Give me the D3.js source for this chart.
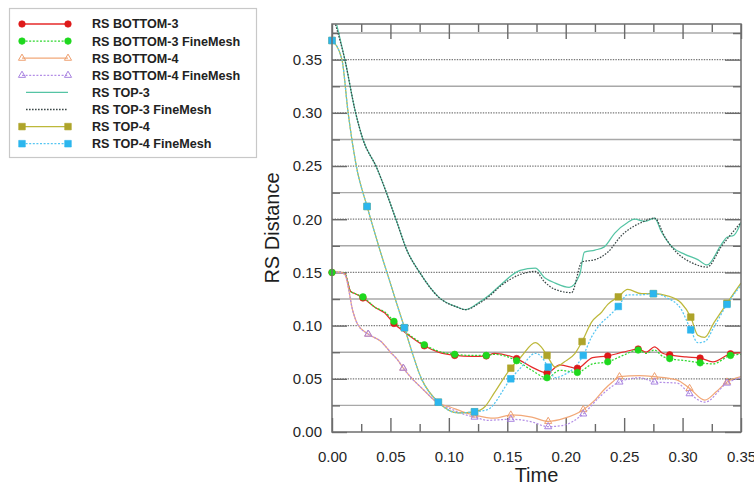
<!DOCTYPE html>
<html>
<head>
<meta charset="utf-8">
<script src="https://cdn.jsdelivr.net/npm/d3@7"></script>
<style>
  html, body { margin: 0; padding: 0; background: #fff; }
  svg { display: block; font-family: "Liberation Sans", Arial, sans-serif; }
</style>
</head>
<body>
<svg id="chart" width="754" height="486"></svg>
<script>
// ---- data -------------------------------------------------------------
const seriesNames = [
  "RS BOTTOM-3", "RS BOTTOM-3 FineMesh", "RS BOTTOM-4", "RS BOTTOM-4 FineMesh",
  "RS TOP-3", "RS TOP-3 FineMesh", "RS TOP-4", "RS TOP-4 FineMesh"
];

const xTickValues = [0, 0.05, 0.10, 0.15, 0.20, 0.25, 0.30, 0.35];
const xTickLabels = ["0.00", "0.05", "0.10", "0.15", "0.20", "0.25", "0.30", "0.35"];
const yTickValues = [0, 0.05, 0.10, 0.15, 0.20, 0.25, 0.30, 0.35];
const yTickLabels = ["0.00", "0.05", "0.10", "0.15", "0.20", "0.25", "0.30", "0.35"];

const bottom3T = [0, 0.007, 0.011, 0.016, 0.020, 0.0265, 0.037, 0.045, 0.053, 0.062, 0.079, 0.091, 0.105, 0.120, 0.132, 0.139, 0.158, 0.171, 0.184, 0.195, 0.210, 0.223, 0.236, 0.249, 0.262, 0.269, 0.276, 0.283, 0.289, 0.303, 0.315, 0.326, 0.341, 0.350];
const bottom3V = [0.150, 0.150, 0.149, 0.132, 0.130, 0.126, 0.117, 0.112, 0.102, 0.094, 0.081, 0.075, 0.072, 0.071, 0.0715, 0.074, 0.069, 0.061, 0.0555, 0.063, 0.060, 0.070, 0.0715, 0.075, 0.078, 0.075, 0.080, 0.074, 0.0725, 0.0705, 0.0695, 0.066, 0.0735, 0.0745];
const bottom3MarkT = [0, 0.0265, 0.053, 0.079, 0.105, 0.132, 0.158, 0.184, 0.210, 0.236, 0.262, 0.289, 0.315, 0.341];

const bottom3FineT = bottom3T;
const bottom3FineV = [0.150, 0.150, 0.149, 0.132, 0.130, 0.127, 0.117, 0.113, 0.104, 0.095, 0.082, 0.076, 0.073, 0.072, 0.072, 0.073, 0.067, 0.058, 0.051, 0.058, 0.056, 0.064, 0.066, 0.072, 0.077, 0.074, 0.077, 0.071, 0.069, 0.067, 0.065, 0.064, 0.072, 0.073];
const bottom3FineMarkT = bottom3MarkT;

const bottom4T = [0, 0.007, 0.011, 0.018, 0.022, 0.031, 0.042, 0.050, 0.056, 0.061, 0.067, 0.078, 0.091, 0.101, 0.112, 0.122, 0.139, 0.153, 0.171, 0.185, 0.199, 0.215, 0.225, 0.233, 0.240, 0.246, 0.263, 0.276, 0.295, 0.306, 0.319, 0.329, 0.338, 0.350];
const bottom4V = [0.150, 0.150, 0.148, 0.113, 0.101, 0.092, 0.085, 0.075, 0.068, 0.060, 0.052, 0.040, 0.027, 0.0235, 0.019, 0.016, 0.013, 0.016, 0.014, 0.010, 0.013, 0.021, 0.030, 0.040, 0.047, 0.052, 0.053, 0.052, 0.049, 0.041, 0.030, 0.038, 0.047, 0.052];
const bottom4MarkT = [0.031, 0.061, 0.091, 0.122, 0.153, 0.185, 0.215, 0.246, 0.276, 0.306, 0.338];

const bottom4FineT = [0, 0.007, 0.011, 0.018, 0.022, 0.031, 0.042, 0.050, 0.056, 0.061, 0.067, 0.078, 0.091, 0.101, 0.112, 0.122, 0.133, 0.153, 0.171, 0.185, 0.197, 0.215, 0.229, 0.246, 0.263, 0.276, 0.295, 0.306, 0.319, 0.338, 0.350];
const bottom4FineV = [0.150, 0.150, 0.148, 0.113, 0.101, 0.092, 0.085, 0.075, 0.068, 0.060, 0.052, 0.040, 0.027, 0.022, 0.017, 0.014, 0.011, 0.012, 0.0095, 0.005, 0.006, 0.017, 0.033, 0.047, 0.051, 0.047, 0.046, 0.036, 0.028, 0.046, 0.051];
const bottom4FineMarkT = bottom4MarkT;

const top3T = [0.004, 0.011, 0.020, 0.0265, 0.038, 0.055, 0.064, 0.075, 0.091, 0.108, 0.114, 0.126, 0.135, 0.144, 0.161, 0.174, 0.182, 0.191, 0.203, 0.212, 0.216, 0.225, 0.233, 0.242, 0.253, 0.259, 0.268, 0.276, 0.282, 0.291, 0.302, 0.313, 0.321, 0.333, 0.338, 0.344, 0.350];
const top3V = [0.383, 0.350, 0.301, 0.275, 0.249, 0.199, 0.171, 0.150, 0.127, 0.117, 0.115, 0.122, 0.129, 0.138, 0.152, 0.154, 0.145, 0.140, 0.136, 0.148, 0.169, 0.171, 0.174, 0.187, 0.197, 0.200, 0.198, 0.201, 0.188, 0.174, 0.167, 0.162, 0.157, 0.176, 0.183, 0.185, 0.197];

const top3FineT = [0.003, 0.011, 0.020, 0.0265, 0.038, 0.055, 0.064, 0.075, 0.091, 0.108, 0.114, 0.126, 0.135, 0.144, 0.161, 0.174, 0.182, 0.191, 0.205, 0.214, 0.225, 0.236, 0.248, 0.265, 0.276, 0.285, 0.293, 0.308, 0.321, 0.333, 0.350];
const top3FineV = [0.383, 0.350, 0.301, 0.275, 0.249, 0.199, 0.171, 0.150, 0.127, 0.117, 0.115, 0.121, 0.128, 0.137, 0.148, 0.151, 0.141, 0.134, 0.131, 0.160, 0.162, 0.169, 0.185, 0.197, 0.201, 0.183, 0.171, 0.159, 0.155, 0.174, 0.197];

const top4T = [0, 0.0085, 0.0137, 0.021, 0.030, 0.041, 0.047, 0.062, 0.077, 0.091, 0.108, 0.122, 0.131, 0.139, 0.153, 0.162, 0.174, 0.179, 0.184, 0.191, 0.199, 0.208, 0.214, 0.222, 0.231, 0.236, 0.245, 0.253, 0.265, 0.275, 0.287, 0.299, 0.307, 0.313, 0.319, 0.327, 0.338, 0.350];
const top4V = [0.368, 0.350, 0.301, 0.249, 0.212, 0.171, 0.150, 0.098, 0.049, 0.028, 0.018, 0.019, 0.024, 0.037, 0.060, 0.071, 0.084, 0.080, 0.072, 0.061, 0.066, 0.074, 0.085, 0.103, 0.113, 0.120, 0.127, 0.134, 0.130, 0.130, 0.128, 0.121, 0.108, 0.091, 0.089, 0.103, 0.121, 0.140];
const top4MarkT = [0, 0.030, 0.062, 0.091, 0.122, 0.153, 0.184, 0.214, 0.245, 0.275, 0.307, 0.338];

const top4FineT = [0, 0.0085, 0.0137, 0.021, 0.030, 0.041, 0.047, 0.062, 0.077, 0.091, 0.108, 0.122, 0.133, 0.153, 0.162, 0.174, 0.179, 0.185, 0.191, 0.199, 0.208, 0.215, 0.222, 0.231, 0.236, 0.245, 0.253, 0.265, 0.275, 0.287, 0.299, 0.307, 0.313, 0.319, 0.327, 0.338, 0.350];
const top4FineV = [0.368, 0.350, 0.301, 0.249, 0.212, 0.171, 0.150, 0.098, 0.049, 0.028, 0.018, 0.019, 0.021, 0.050, 0.061, 0.074, 0.071, 0.061, 0.051, 0.054, 0.061, 0.072, 0.089, 0.103, 0.108, 0.118, 0.129, 0.129, 0.130, 0.126, 0.115, 0.096, 0.084, 0.085, 0.099, 0.120, 0.138];
const top4FineMarkT = [0, 0.030, 0.062, 0.091, 0.122, 0.153, 0.185, 0.215, 0.245, 0.275, 0.307, 0.338];

// ---- series styling ---------------------------------------------------
const series = [
  { name: seriesNames[0], t: bottom3T, v: bottom3V, marks: bottom3MarkT, color: "#e62a2a", markColor: "#de1a1a", dash: null, marker: "circle" },
  { name: seriesNames[1], t: bottom3FineT, v: bottom3FineV, marks: bottom3FineMarkT, color: "#2fd82f", markColor: "#1ed81e", dash: "2,1.6", marker: "circle" },
  { name: seriesNames[2], t: bottom4T, v: bottom4V, marks: bottom4MarkT, color: "#f2a878", markColor: "#eea070", dash: null, marker: "triangle" },
  { name: seriesNames[3], t: bottom4FineT, v: bottom4FineV, marks: bottom4FineMarkT, color: "#b38ee6", markColor: "#a883e0", dash: "2,1.6", marker: "triangle" },
  { name: seriesNames[4], t: top3T, v: top3V, marks: [], color: "#55c4a4", markColor: null, dash: null, marker: null },
  { name: seriesNames[5], t: top3FineT, v: top3FineV, marks: [], color: "#3c4848", markColor: null, dash: "1.6,1.4", marker: null },
  { name: seriesNames[6], t: top4T, v: top4V, marks: top4MarkT, color: "#bdb83a", markColor: "#aea42a", dash: null, marker: "square" },
  { name: seriesNames[7], t: top4FineT, v: top4FineV, marks: top4FineMarkT, color: "#56c6f2", markColor: "#2cb6ee", dash: "2,1.6", marker: "square" }
];

// ---- layout -----------------------------------------------------------
const svg = d3.select("#chart");
const plot = { left: 332, right: 741, top: 24, bottom: 432 };

const x = d3.scaleLinear().domain([0, 0.35]).range([plot.left, plot.right]);
const y = d3.scaleLinear().domain([0, 0.3835]).range([plot.bottom, plot.top]);

const xMinor = d3.range(0.025, 0.35, 0.05);
const yMinor = d3.range(0.025, 0.38, 0.05);

// horizontal grid: solid at the half steps, dotted at the labelled steps
const grid = svg.append("g");
grid.selectAll("line.minor").data(yMinor).join("line")
  .attr("x1", plot.left).attr("x2", plot.right)
  .attr("y1", d => y(d)).attr("y2", d => y(d))
  .attr("stroke", "#a8a8a8").attr("stroke-width", 1.4);
grid.selectAll("line.major").data(yTickValues.filter(d => d > 0)).join("line")
  .attr("x1", plot.left).attr("x2", plot.right)
  .attr("y1", d => y(d)).attr("y2", d => y(d))
  .attr("stroke", "#7a7a7a").attr("stroke-width", 1.2).attr("stroke-dasharray", "1.4,1.2");

// ---- axes -------------------------------------------------------------
const fmt = (vals, labels) => d => labels[vals.indexOf(d)];

const axisStyle = g => {
  g.select(".domain").remove();
  g.selectAll(".tick line").attr("stroke", "#6a6a6a").attr("stroke-width", 1.4);
  g.selectAll(".tick text").attr("fill", "#262626").attr("font-size", 15);
};

svg.append("g").attr("transform", `translate(0,${plot.bottom})`)
  .call(d3.axisBottom(x).tickValues(xTickValues).tickSize(-14).tickPadding(19)
    .tickFormat(fmt(xTickValues, xTickLabels)))
  .call(axisStyle);
svg.append("g").attr("transform", `translate(0,${plot.bottom})`)
  .call(d3.axisBottom(x).tickValues(xMinor).tickSize(-8).tickFormat(""))
  .call(axisStyle);
svg.append("g").attr("transform", `translate(0,${plot.top})`)
  .call(d3.axisTop(x).tickValues(xTickValues).tickSize(-15).tickFormat(""))
  .call(axisStyle);
svg.append("g").attr("transform", `translate(0,${plot.top})`)
  .call(d3.axisTop(x).tickValues(xMinor).tickSize(-8).tickFormat(""))
  .call(axisStyle);

svg.append("g").attr("transform", `translate(${plot.left},0)`)
  .call(d3.axisLeft(y).tickValues(yTickValues).tickSize(-15).tickPadding(10)
    .tickFormat(fmt(yTickValues, yTickLabels)))
  .call(axisStyle);
svg.append("g").attr("transform", `translate(${plot.left},0)`)
  .call(d3.axisLeft(y).tickValues(yMinor).tickSize(-8).tickFormat(""))
  .call(axisStyle);
svg.append("g").attr("transform", `translate(${plot.right},0)`)
  .call(d3.axisRight(y).tickValues(yTickValues).tickSize(-16).tickFormat(""))
  .call(axisStyle);
svg.append("g").attr("transform", `translate(${plot.right},0)`)
  .call(d3.axisRight(y).tickValues(yMinor).tickSize(-8).tickFormat(""))
  .call(axisStyle);

// ---- series -----------------------------------------------------------
svg.append("clipPath").attr("id", "plotClip").append("rect")
  .attr("x", plot.left).attr("y", plot.top)
  .attr("width", plot.right - plot.left).attr("height", plot.bottom - plot.top);

const line = d3.line().x(d => x(d[0])).y(d => y(d[1])).curve(d3.curveMonotoneX);

const symbolType = { circle: d3.symbolCircle, square: d3.symbolSquare, triangle: d3.symbolTriangle };
const symbolSize = { circle: 34, square: 44, triangle: 22 };

function drawMarker(sel, s) {
  sel.attr("d", d3.symbol().type(symbolType[s.marker]).size(symbolSize[s.marker]))
    .attr("fill", s.marker === "triangle" ? "none" : s.markColor)
    .attr("stroke", s.markColor)
    .attr("stroke-width", s.marker === "triangle" ? 1.0 : 0.6);
}

const plotArea = svg.append("g").attr("clip-path", "url(#plotClip)");
series.forEach(s => {
  const pts = s.t.map((t, i) => [t, s.v[i]]);
  plotArea.append("path").datum(pts)
    .attr("d", line)
    .attr("fill", "none")
    .attr("stroke", s.color)
    .attr("stroke-width", 1.25)
    .attr("stroke-dasharray", s.dash);
});
series.forEach(s => {
  if (!s.marker) return;
  const pts = s.marks.map(t => [t, s.v[s.t.indexOf(t)]]);
  svg.append("g").selectAll("path").data(pts).join("path")
    .attr("transform", d => `translate(${x(d[0])},${y(d[1])})`)
    .call(sel => drawMarker(sel, s));
});

// plot frame
svg.append("rect")
  .attr("x", plot.left).attr("y", plot.top)
  .attr("width", plot.right - plot.left).attr("height", plot.bottom - plot.top)
  .attr("fill", "none").attr("stroke", "#6e6e6e").attr("stroke-width", 1.5);

// ---- axis titles ------------------------------------------------------
svg.append("text")
  .attr("x", (plot.left + plot.right) / 2).attr("y", 482)
  .attr("text-anchor", "middle").attr("font-size", 20).attr("fill", "#1e1e1e")
  .text("Time");
svg.append("text")
  .attr("transform", `translate(279,${(plot.top + plot.bottom) / 2}) rotate(-90)`)
  .attr("text-anchor", "middle").attr("font-size", 20).attr("fill", "#1e1e1e")
  .text("RS Distance");

// ---- legend -----------------------------------------------------------
const legend = svg.append("g");
legend.append("rect")
  .attr("x", 9.5).attr("y", 8.5).attr("width", 247).attr("height", 149)
  .attr("fill", "#fff").attr("stroke", "#c8c8c8").attr("stroke-width", 1.2);

const rowY = i => 24 + i * 17.1;
series.forEach((s, i) => {
  const row = legend.append("g").attr("transform", `translate(0,${rowY(i)})`);
  const x0 = s.marker ? 22 : 26;
  row.append("line").attr("x1", x0).attr("x2", 68).attr("y1", 0).attr("y2", 0)
    .attr("stroke", s.color).attr("stroke-width", 1.3).attr("stroke-dasharray", s.dash);
  if (s.marker) {
    row.selectAll("path").data([22, 68]).join("path")
      .attr("transform", d => `translate(${d},0)`)
      .call(sel => drawMarker(sel, s));
  }
  row.append("text").attr("x", 92).attr("y", 0).attr("dy", "0.35em")
    .attr("font-size", 12.6).attr("font-weight", "bold").attr("fill", "#222")
    .text(s.name);
});
</script>
</body>
</html>
